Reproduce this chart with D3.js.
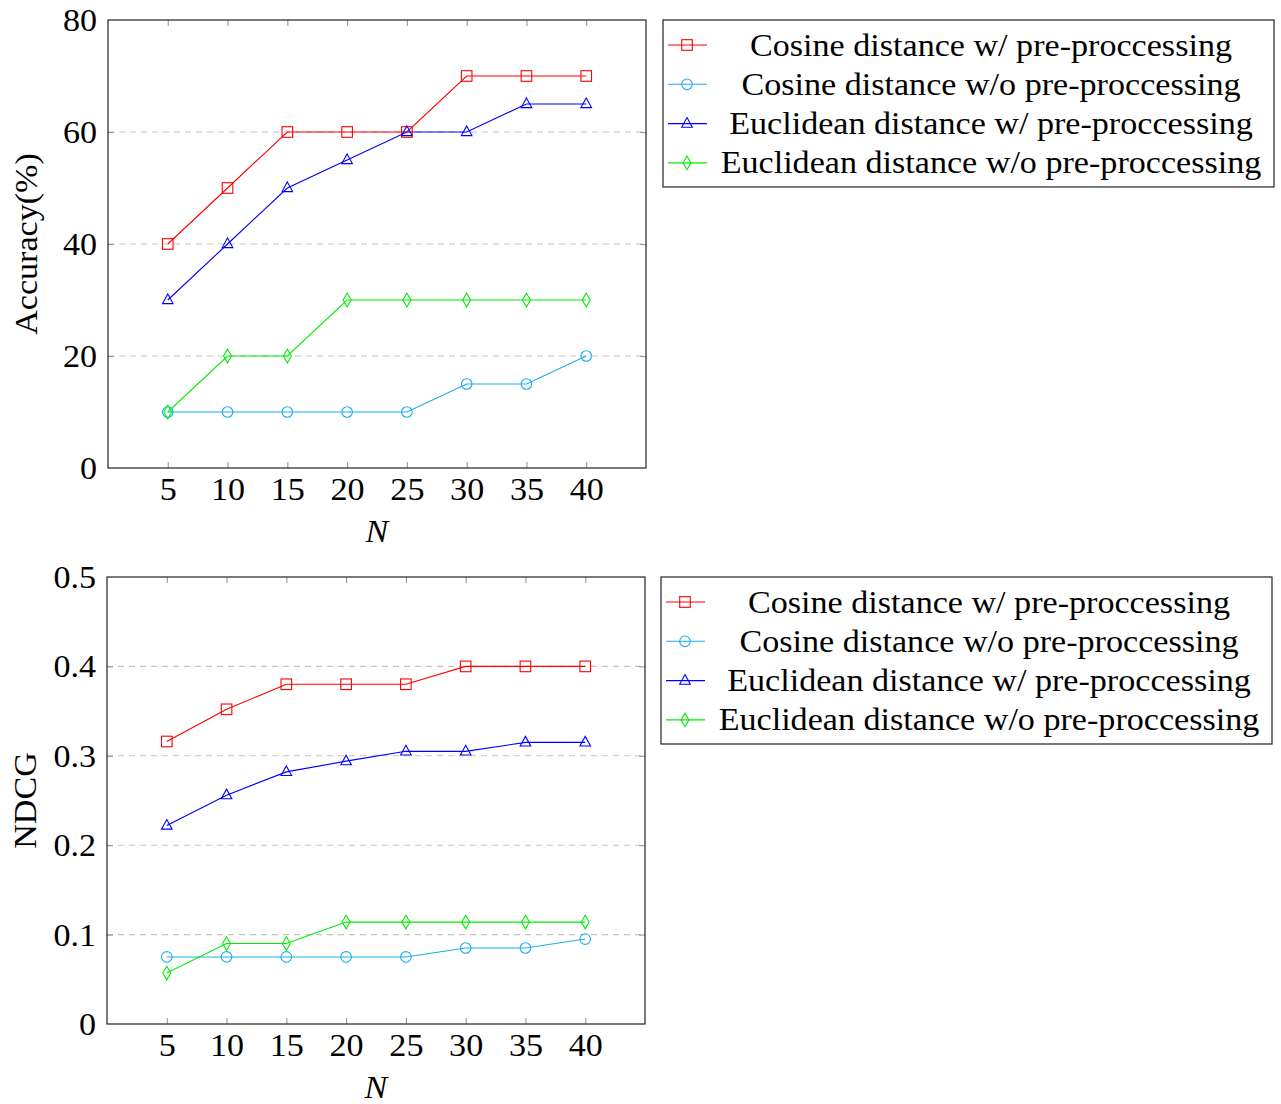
<!DOCTYPE html>
<html>
<head>
<meta charset="utf-8">
<script src="https://cdn.jsdelivr.net/npm/d3@7"></script>
<style>
  html, body { margin: 0; padding: 0; background: #fff; }
  text { font-family: "Liberation Serif", "DejaVu Serif", serif; fill: #000; }
</style>
</head>
<body>
<svg id="chart" width="1281" height="1104"></svg>
<script>
// ---------- data ----------
const N = [5, 10, 15, 20, 25, 30, 35, 40];
const seriesNames = [
  "Cosine distance w/ pre-proccessing",
  "Cosine distance w/o pre-proccessing",
  "Euclidean distance w/ pre-proccessing",
  "Euclidean distance w/o pre-proccessing"
];
const seriesColors = ["#ff0000", "#1aaeef", "#0000ff", "#00ee00"];
const seriesMarkers = ["square", "circle", "triangle", "diamond"];

const accCosW   = [40, 50, 60, 60, 60, 70, 70, 70];
const accCosWo  = [10, 10, 10, 10, 10, 15, 15, 20];
const accEucW   = [30, 40, 50, 55, 60, 60, 65, 65];
const accEucWo  = [10, 20, 20, 30, 30, 30, 30, 30];

const ndcgCosW  = [0.316, 0.352, 0.380, 0.380, 0.380, 0.400, 0.400, 0.400];
const ndcgCosWo = [0.075, 0.075, 0.075, 0.075, 0.075, 0.085, 0.085, 0.095];
const ndcgEucW  = [0.222, 0.256, 0.282, 0.294, 0.305, 0.305, 0.315, 0.315];
const ndcgEucWo = [0.057, 0.090, 0.090, 0.114, 0.114, 0.114, 0.114, 0.114];

const accTicks  = [0, 20, 40, 60, 80];
const ndcgTicks = [0, 0.1, 0.2, 0.3, 0.4, 0.5];
const xTicks    = N;

// ---------- drawing ----------
const svg = d3.select("#chart");
const FS = 31;

function marker(g, type, x, y, color) {
  const s = 5.3;
  let el;
  if (type === "square") {
    el = g.append("rect").attr("x", x - s).attr("y", y - s).attr("width", 2 * s).attr("height", 2 * s);
  } else if (type === "circle") {
    el = g.append("circle").attr("cx", x).attr("cy", y).attr("r", s);
  } else if (type === "triangle") {
    el = g.append("path").attr("d", `M${x},${y - 6}L${x + 5.3},${y + 3.6}L${x - 5.3},${y + 3.6}Z`);
  } else {
    el = g.append("path").attr("d", `M${x},${y - 6.8}L${x + 4},${y}L${x},${y + 6.8}L${x - 4},${y}Z`);
  }
  el.attr("fill", "none").attr("stroke", color).attr("stroke-width", 1.1);
}

function panel(cfg) {
  const { left, right, top, bottom, yDomain, yTicks, yFmt, yLabel, series, legend } = cfg;
  const x = d3.scaleLinear().domain([0, 45]).range([left, right]);
  const y = d3.scaleLinear().domain(yDomain).range([bottom, top]);
  const g = svg.append("g");

  // grid
  const gridVals = yTicks.filter(v => v > yDomain[0] && v < yDomain[1]);
  g.append("g").selectAll("line").data(gridVals).join("line")
    .attr("x1", left).attr("x2", right)
    .attr("y1", d => y(d)).attr("y2", d => y(d))
    .attr("stroke", "#c4c4c4").attr("stroke-width", 1.1)
    .attr("stroke-dasharray", "6,5");

  // inner ticks on all four sides
  const tickStyle = sel => {
    sel.select(".domain").remove();
    sel.selectAll(".tick line").attr("stroke", "#999").attr("stroke-width", 1.1);
  };
  const innerY = yTicks.filter(v => v > yDomain[0] && v < yDomain[1]);
  g.append("g").attr("transform", `translate(${left},0)`)
    .call(d3.axisLeft(y).tickValues(innerY).tickSizeInner(-6).tickSizeOuter(0).tickFormat(""))
    .call(tickStyle);
  g.append("g").attr("transform", `translate(${right},0)`)
    .call(d3.axisRight(y).tickValues(innerY).tickSizeInner(-6).tickSizeOuter(0).tickFormat(""))
    .call(tickStyle);
  g.append("g").attr("transform", `translate(0,${top})`)
    .call(d3.axisTop(x).tickValues(xTicks).tickSizeInner(-6).tickSizeOuter(0).tickFormat(""))
    .call(tickStyle);
  g.append("g").attr("transform", `translate(0,${bottom})`)
    .call(d3.axisBottom(x).tickValues(xTicks).tickSizeInner(-6).tickSizeOuter(0).tickFormat(""))
    .call(tickStyle);

  // tick labels
  const yl = g.append("g").attr("transform", `translate(${left},0)`)
    .call(d3.axisLeft(y).tickValues(yTicks).tickSize(0).tickPadding(11).tickFormat(yFmt));
  yl.select(".domain").remove();
  yl.selectAll("text").attr("font-size", FS).attr("font-family", null).attr("dy", "0.34em");
  const xl = g.append("g").attr("transform", `translate(0,${bottom})`)
    .call(d3.axisBottom(x).tickValues(xTicks).tickSize(0).tickPadding(0).tickFormat(d3.format("d")));
  xl.select(".domain").remove();
  xl.selectAll("text").attr("font-size", FS).attr("font-family", null).attr("dy", null).attr("y", 32);

  // frame
  g.append("rect").attr("x", left).attr("y", top)
    .attr("width", right - left).attr("height", bottom - top)
    .attr("fill", "none").attr("stroke", "#222").attr("stroke-width", 1.2);

  // axis labels
  g.append("text").attr("x", (left + right) / 2).attr("y", bottom + 74)
    .attr("text-anchor", "middle").attr("font-size", FS).attr("font-style", "italic").text("N");
  g.append("text")
    .attr("transform", `translate(${left - 71},${(top + bottom) / 2}) rotate(-90)`)
    .attr("text-anchor", "middle").attr("font-size", FS).text(yLabel);

  // series
  const line = d3.line().x((d, i) => x(N[i])).y(d => y(d));
  series.forEach((vals, k) => {
    g.append("path").datum(vals).attr("d", line)
      .attr("fill", "none").attr("stroke", seriesColors[k]).attr("stroke-width", 1.1);
  });
  series.forEach((vals, k) => {
    const mg = g.append("g");
    vals.forEach((v, i) => marker(mg, seriesMarkers[k], x(N[i]), y(v), seriesColors[k]));
  });

  // legend
  const L = legend;
  const lg = svg.append("g");
  lg.append("rect").attr("x", L.x).attr("y", L.y).attr("width", L.w).attr("height", L.h)
    .attr("fill", "#fff").attr("stroke", "#222").attr("stroke-width", 1.2);
  seriesNames.forEach((name, k) => {
    const cy = L.y + 25 + k * 39.3;
    lg.append("line").attr("x1", L.x + 5).attr("x2", L.x + 44).attr("y1", cy).attr("y2", cy)
      .attr("stroke", seriesColors[k]).attr("stroke-width", 1.1);
    marker(lg, seriesMarkers[k], L.x + 24, cy, seriesColors[k]);
    lg.append("text").attr("x", L.x + 328).attr("y", cy).attr("dy", "0.34em")
      .attr("text-anchor", "middle").attr("font-size", FS).text(name);
  });
}

panel({
  left: 108, right: 646, top: 20, bottom: 468,
  yDomain: [0, 80], yTicks: accTicks, yFmt: d3.format("d"), yLabel: "Accuracy(%)",
  series: [accCosW, accCosWo, accEucW, accEucWo],
  legend: { x: 663, y: 20, w: 611, h: 167 }
});
panel({
  left: 107, right: 645, top: 577, bottom: 1024,
  yDomain: [0, 0.5], yTicks: ndcgTicks, yFmt: d => d === 0 ? "0" : d3.format(".1f")(d), yLabel: "NDCG",
  series: [ndcgCosW, ndcgCosWo, ndcgEucW, ndcgEucWo],
  legend: { x: 661, y: 577, w: 611, h: 167 }
});

// widen text to approximate Computer Modern proportions
svg.selectAll("text").each(function () {
  const w = this.getComputedTextLength();
  if (w > 0) d3.select(this).attr("textLength", w * 1.1).attr("lengthAdjust", "spacingAndGlyphs");
});
</script>
</body>
</html>
